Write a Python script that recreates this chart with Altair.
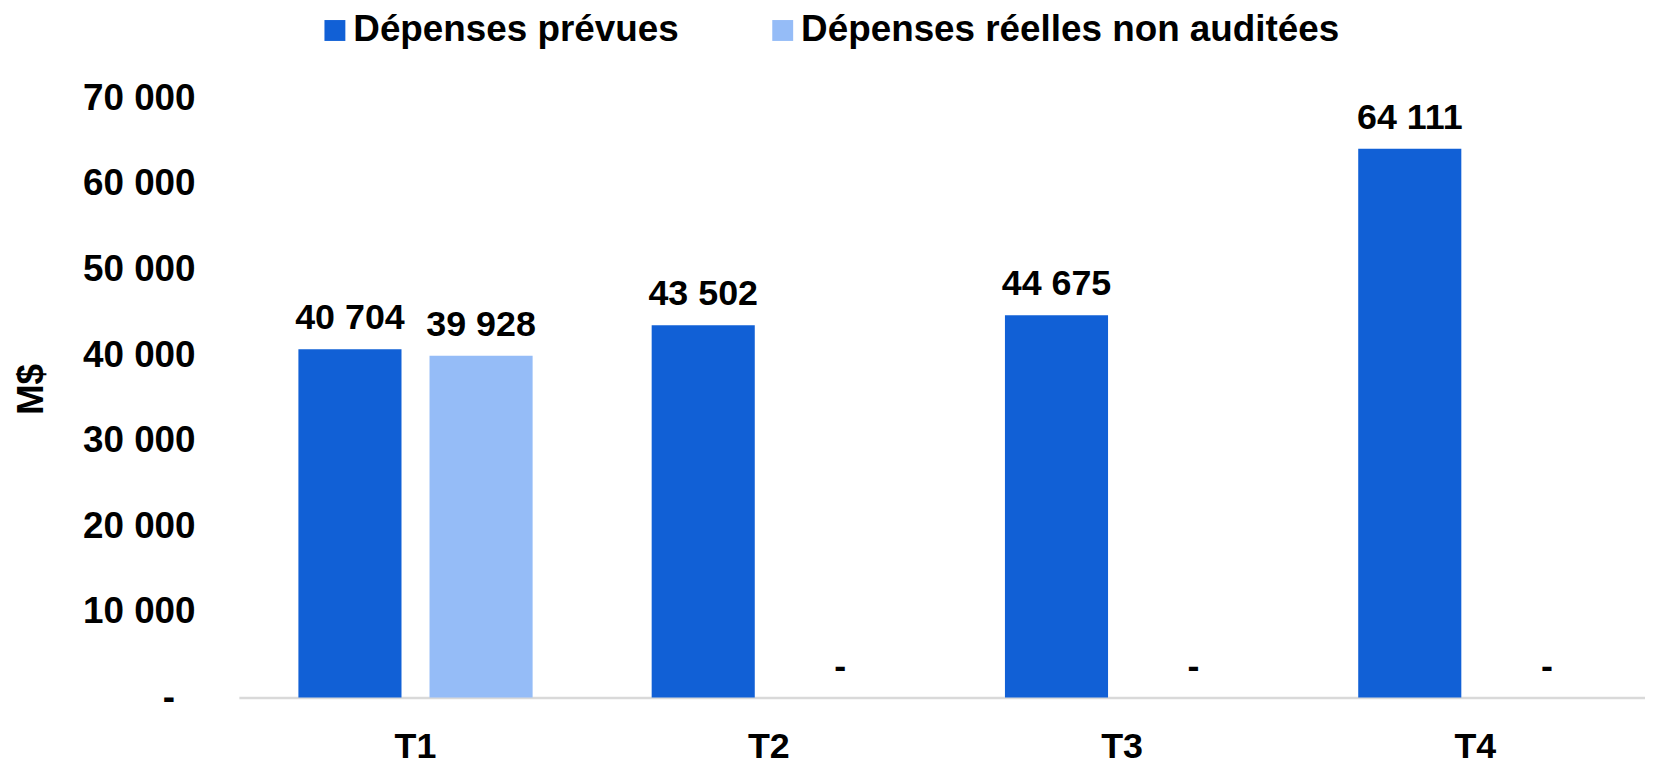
import altair as alt
import pandas as pd

quarters = ["T1", "T2", "T3", "T4"]
series_names = ["Dépenses prévues", "Dépenses réelles non auditées"]
planned = [40704, 43502, 44675, 64111]
actual = [39928, 0, 0, 0]
colors = ["#1160D6", "#95BCF7"]
y_ticks = [0, 10000, 20000, 30000, 40000, 50000, 60000, 70000]

rows = []
for q, p, a in zip(quarters, planned, actual):
    rows.append({"q": q, "s": series_names[0], "v": p})
    rows.append({"q": q, "s": series_names[1], "v": a})
df = pd.DataFrame(rows)

FONT = "Liberation Sans"
FS = 36
FS_BIG = 37

x = alt.X("q:N", sort=quarters, title=None,
          scale=alt.Scale(paddingInner=0, paddingOuter=0, rangeMin=0, rangeMax=1420),
          axis=alt.Axis(labelAngle=0, ticks=False, tickSize=0, labelPadding=60,
                        labelBaseline="alphabetic", labelFontSize=FS,
                        labelFontWeight="bold", labelColor="#000000",
                        domainColor="#D9D9D9", domainWidth=2.5, grid=False))
xo = alt.XOffset("s:N", sort=series_names,
                 scale=alt.Scale(paddingInner=0.2137, paddingOuter=0.454))
y = alt.Y("v:Q", title="M$",
          scale=alt.Scale(domain=[0, 70000], nice=False),
          axis=alt.Axis(values=y_ticks, domain=False, ticks=False, tickSize=0,
                        grid=False, labelPadding=44, labelFontSize=FS_BIG,
                        labelFontWeight="bold", labelColor="#000000",
                        labelExpr="datum.value == 0 ? '-\u00a0\u00a0\u200b' : replace(format(datum.value, ',d'), ',', ' ')",
                        titleFontSize=FS_BIG, titleFontWeight="bold", titleColor="#000000",
                        titleAngle=270, titleX=-208, titleY=292,
                        titleBaseline="middle", titleAlign="center"))

bars = alt.Chart(df).mark_bar().encode(
    x=x, xOffset=xo, y=y,
    color=alt.Color("s:N", sort=series_names,
                    scale=alt.Scale(domain=series_names, range=colors),
                    legend=alt.Legend(title=None, orient="none", legendX=78, legendY=-87,
                                      direction="horizontal", symbolType="square",
                                      symbolSize=441, symbolStrokeWidth=0,
                                      labelFontSize=FS_BIG, labelFontWeight="bold",
                                      labelColor="#000000", labelFont=FONT,
                                      labelOffset=0, columnPadding=85,
                                      padding=0, labelLimit=800)),
)

labels = alt.Chart(df).transform_filter("datum.v > 0").transform_calculate(
    lab="replace(format(datum.v, ',d'), ',', ' ')"
).mark_text(baseline="alphabetic", dy=-20, fontSize=FS, fontWeight="bold",
            color="#000000", font=FONT).encode(
    x=alt.X("q:N", sort=quarters), xOffset=alt.XOffset("s:N", sort=series_names),
    y="v:Q", text="lab:N")

zero_labels = alt.Chart(df).transform_filter("datum.v == 0").transform_calculate(
    lab="'-'"
).mark_text(baseline="alphabetic", dy=-20, dx=6, fontSize=FS, fontWeight="bold",
            color="#000000", font=FONT).encode(
    x=alt.X("q:N", sort=quarters), xOffset=alt.XOffset("s:N", sort=series_names),
    y="v:Q", text="lab:N")

chart = alt.layer(bars, labels, zero_labels).properties(
    width=1413, height=602,
    padding={"left": 232, "top": 89, "right": 0, "bottom": 66},
    autosize=alt.AutoSizeParams(type="none"),
).configure(font=FONT).configure_view(stroke=None)

chart.save("out.html", embed_options={"renderer": "svg", "actions": False})
